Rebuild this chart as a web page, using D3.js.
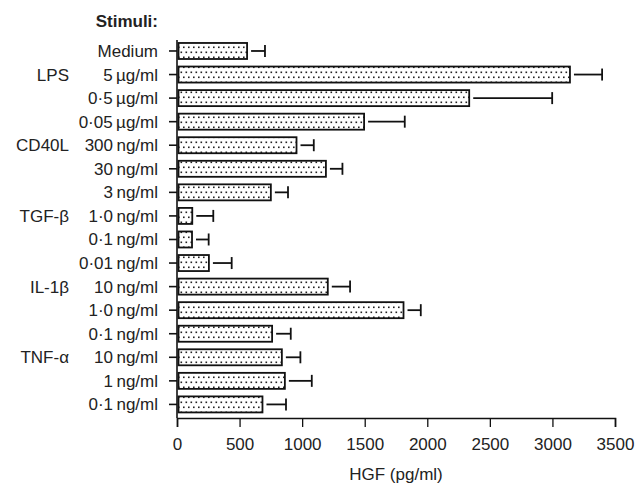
<!DOCTYPE html>
<meta charset="utf-8">
<style>
    body { margin: 0; background: #fff; }
    text { font-family: "Liberation Sans", Arial, sans-serif; fill: #222; }
</style>
<script src="https://d3js.org/d3.v7.min.js"></script>
<body>
<script>
    var groups = ["", "LPS", "", "", "CD40L", "", "", "TGF-\u03b2", "", "", "IL-1\u03b2", "", "", "TNF-\u03b1", "", ""];
    var doses = ["Medium", "5\u2009\u00b5g/ml", "0\u00b75\u2009\u00b5g/ml", "0\u00b705\u2009\u00b5g/ml",
        "300\u2009ng/ml", "30\u2009ng/ml", "3\u2009ng/ml",
        "1\u00b70\u2009ng/ml", "0\u00b71\u2009ng/ml", "0\u00b701\u2009ng/ml",
        "10\u2009ng/ml", "1\u00b70\u2009ng/ml", "0\u00b71\u2009ng/ml",
        "10\u2009ng/ml", "1\u2009ng/ml", "0\u00b71\u2009ng/ml"];
    var means = [560, 3140, 2335, 1495, 955, 1190, 750, 122, 120, 255, 1205, 1810, 760, 838, 862, 683];
    var upper = [703, 3397, 2998, 1820, 1093, 1322, 887, 290, 253, 437, 1383, 1948, 909, 986, 1077, 871];
    var xTicks = [0, 500, 1000, 1500, 2000, 2500, 3000, 3500];

    var width = 637, height = 485;
    var x0 = 177, x1 = 615;
    var fs = "17px";

    var svg = d3.select("body").append("svg")
        .attr("width", width)
        .attr("height", height);

    var pat = svg.append("defs").append("pattern")
        .attr("id", "dots")
        .attr("patternUnits", "userSpaceOnUse")
        .attr("width", 5).attr("height", 10);
    pat.append("rect").attr("width", 5).attr("height", 10).attr("fill", "#fff");
    pat.append("rect").attr("x", 0.5).attr("y", 1.5).attr("width", 1.6).attr("height", 1.6).attr("fill", "#222");
    pat.append("rect").attr("x", 3).attr("y", 6.5).attr("width", 1.6).attr("height", 1.6).attr("fill", "#222");

    var x = d3.scaleLinear().domain([0, 3500]).range([x0, x1]);
    var y = d3.scaleBand().domain(d3.range(doses.length)).range([39.2, 416.2]).paddingInner(0.32).paddingOuter(0.16);

    // axes
    svg.append("line").attr("x1", x0).attr("x2", x0).attr("y1", 40).attr("y2", 418)
        .attr("stroke", "#111").attr("stroke-width", 1.6);

    var xAxis = svg.append("g").attr("transform", "translate(0,418)")
        .call(d3.axisBottom(x).tickValues(xTicks).tickSize(9).tickPadding(11).tickFormat(d3.format("d")));
    xAxis.select(".domain").attr("stroke", "#111").attr("stroke-width", 1.6);
    xAxis.selectAll(".tick line").attr("stroke", "#111").attr("stroke-width", 1.3);
    xAxis.selectAll("text").style("font-size", fs).style("font-family", "Liberation Sans, Arial, sans-serif").attr("fill", "#222");

    svg.append("text").attr("x", (x0 + x1) / 2).attr("y", 480)
        .attr("text-anchor", "middle").style("font-size", fs).text("HGF (pg/ml)");

    svg.append("text").attr("x", 158).attr("y", 27)
        .attr("text-anchor", "end").style("font-size", fs).style("font-weight", "bold").text("Stimuli:");

    var rows = svg.selectAll("g.row").data(means).enter().append("g").attr("class", "row");

    rows.append("line")
        .attr("x1", 169).attr("x2", x0)
        .attr("y1", function(d, i) { return y(i) + y.bandwidth() / 2; })
        .attr("y2", function(d, i) { return y(i) + y.bandwidth() / 2; })
        .attr("stroke", "#111").attr("stroke-width", 1.6);

    rows.append("rect")
        .attr("x", x(0) + 1.5)
        .attr("y", function(d, i) { return y(i); })
        .attr("width", function(d) { return x(d) - x(0) - 1.5; })
        .attr("height", y.bandwidth())
        .attr("fill", "url(#dots)")
        .attr("stroke", "#111").attr("stroke-width", 1.8);

    rows.append("line")
        .attr("x1", function(d) { return x(d) + 4; })
        .attr("x2", function(d, i) { return x(upper[i]); })
        .attr("y1", function(d, i) { return y(i) + y.bandwidth() / 2; })
        .attr("y2", function(d, i) { return y(i) + y.bandwidth() / 2; })
        .attr("stroke", "#111").attr("stroke-width", 1.8);

    rows.append("line")
        .attr("x1", function(d, i) { return x(upper[i]); })
        .attr("x2", function(d, i) { return x(upper[i]); })
        .attr("y1", function(d, i) { return y(i) + y.bandwidth() / 2 - 6; })
        .attr("y2", function(d, i) { return y(i) + y.bandwidth() / 2 + 6; })
        .attr("stroke", "#111").attr("stroke-width", 1.8);

    rows.append("text")
        .attr("x", 158)
        .attr("y", function(d, i) { return y(i) + y.bandwidth() / 2 + 6; })
        .attr("text-anchor", "end").style("font-size", fs)
        .text(function(d, i) { return doses[i]; });

    rows.append("text")
        .attr("x", 69)
        .attr("y", function(d, i) { return y(i) + y.bandwidth() / 2 + 6; })
        .attr("text-anchor", "end").style("font-size", fs)
        .text(function(d, i) { return groups[i]; });
</script>
